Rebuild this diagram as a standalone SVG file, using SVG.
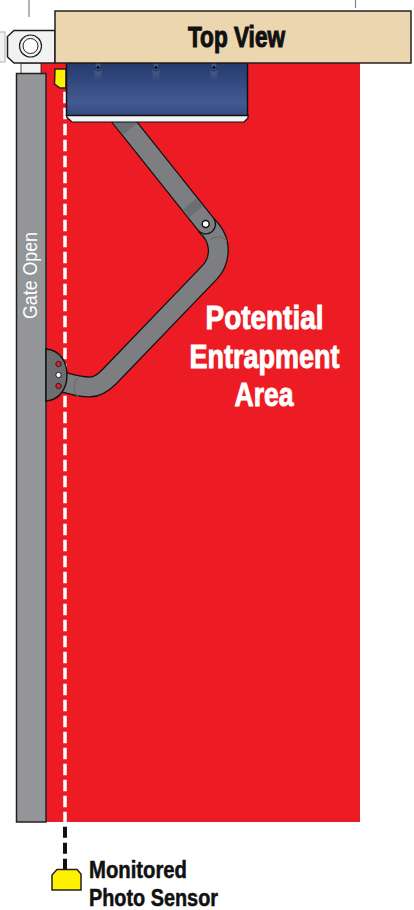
<svg xmlns="http://www.w3.org/2000/svg" width="414" height="910" viewBox="0 0 414 910">
<style>
.o{stroke:#231f20;stroke-width:1.5}
.h{font-family:"Liberation Sans",Arial,sans-serif;font-weight:700}
.w{fill:#fff;stroke:#fff;stroke-width:.9}
.k{fill:#111;stroke:#111;stroke-width:.5}
.s{fill:#ed1c24;stroke:#231f20;stroke-width:1}
</style>
<defs>
<linearGradient id="b" x1="0" y1="0" x2="0" y2="1"><stop offset="0" stop-color="#253a6c"/><stop offset=".75" stop-color="#435a92"/><stop offset="1" stop-color="#35497e"/></linearGradient>
<linearGradient id="f" x1="0" y1="0" x2="0" y2="1"><stop offset="0" stop-color="#6a7ea8" stop-opacity=".7"/><stop offset="1" stop-color="#6a7ea8" stop-opacity="0"/></linearGradient>
<g id="bolt"><rect x="-3.500" y="0" width="7" height="18" rx="3" fill="url(#f)"/><path d="M-3 0v5a3 3 0 0 0 6 0V0z" fill="#3d5a92" stroke="#1a2544" stroke-width=".8"/><circle cy="4.500" r="1.600" fill="#111"/></g>
</defs>
<rect width="414" height="910" fill="#fff"/>
<path id="ticks" d="M29 0V17M355.500 0V8" stroke="#808285" stroke-width="1.200" fill="none"/>
<rect id="area" x="41" y="63" width="319" height="759" fill="#ed1c24"/>
<g id="side-stub"><path d="M0 32H5V62H0" fill="#f1f2f2" stroke="#c7c8ca" stroke-width="1.500"/></g>
<g id="bracket">
<rect x="21" y="63" width="20" height="11" fill="#f1f2f2" stroke="#231f20" stroke-width=".8"/>
<path class="o" d="M14 30.500H55V63H14L7.500 57V36.500z" fill="#f1f2f2"/>
<circle cx="30.500" cy="46" r="11" fill="#f1f2f2" stroke="#231f20" stroke-width="1.200"/>
<circle cx="30.500" cy="46" r="7.500" fill="#fff" stroke="#231f20" stroke-width="1"/>
</g>
<g id="gate">
<rect class="o" x="16.500" y="73.500" width="29.500" height="748.500" fill="#939598"/>
<text transform="translate(37 319) rotate(-90)" font-family="'Liberation Sans',Arial,sans-serif" font-size="20" fill="#fff" textLength="87" lengthAdjust="spacingAndGlyphs">Gate Open</text>
</g>
<g id="top-sensor"><path class="o" d="M55 69H66V88H60L54.500 84z" fill="#fff200"/></g>
<g id="beam"><path d="M65 91.700V822" stroke="#fff" stroke-width="3.500" stroke-dasharray="11.500 4.500" fill="none"/><path d="M65 826.700V869" stroke="#111" stroke-width="4" stroke-dasharray="11 5" fill="none"/></g>
<g id="arm">
<path d="M60 381C70 384 78 387 90 387C97 387 103 383 109 377L210 272C216 265.500 218.300 258 218.300 250C218.300 240 213 231 205 224" stroke="#111" stroke-width="21" fill="none"/>
<path d="M60 381C70 384 78 387 90 387C97 387 103 383 109 377L210 272C216 265.500 218.300 258 218.300 250C218.300 240 213 231 205 224" stroke="#7d7e81" stroke-width="18.500" fill="none"/>
<path d="M78 378C73 382 73 392 78 396M210 240C214 236 223 236 227 241" stroke="#6d6e71" stroke-width="1.200" fill="none"/>
<path d="M118 114L205.700 224" stroke="#111" stroke-width="21" stroke-linecap="round" fill="none"/>
<path d="M118 114L205.700 224" stroke="#7d7e81" stroke-width="18.500" stroke-linecap="round" fill="none"/>
<path d="M118 114L130 129M189.500 204L196 212" stroke="#6d6e71" stroke-width="18.500" fill="none"/>
<circle cx="205.700" cy="224" r="3.500" fill="#fff" stroke="#111" stroke-width="1.500"/>
</g>
<g id="plate">
<path d="M46 349C60 350 67 362 67 375C67 388 60 400 46 401z" fill="#6d6e71" stroke="#111" stroke-width="1.400"/>
<circle class="s" cx="58.500" cy="364" r="2.700"/><circle cx="58.500" cy="375" r="2.700" fill="#fff" stroke="#231f20"/><circle class="s" cx="58.500" cy="386" r="2.700"/>
</g>
<g id="motor">
<path d="M66.500 115H248V118L244 122H72L66.500 117z" fill="#f1f2f2" stroke="#111" stroke-width="1.200"/>
<rect x="66.500" y="63" width="181" height="52.500" fill="url(#b)" stroke="#111" stroke-width="1.500"/>
<use href="#bolt" x="98" y="63"/><use href="#bolt" x="156" y="63"/><use href="#bolt" x="214" y="63"/>
</g>
<g id="title">
<rect class="o" x="55" y="11" width="356" height="52" fill="#ecd6b0"/>
<text class="h k" x="188" y="46.500" font-size="29" style="stroke-width:1.100" textLength="97" lengthAdjust="spacingAndGlyphs">Top View</text>
</g>
<g id="entrapment">
<text class="h w" x="205.500" y="329" font-size="33" textLength="118" lengthAdjust="spacingAndGlyphs">Potential</text>
<text class="h w" x="189.500" y="368" font-size="33" textLength="150" lengthAdjust="spacingAndGlyphs">Entrapment</text>
<text class="h w" x="234.500" y="406" font-size="33" textLength="59" lengthAdjust="spacingAndGlyphs">Area</text>
</g>
<g id="bottom-sensor">
<path class="o" d="M57 869.500H77L81 874V890H52V875z" fill="#fff200"/>
<text class="h k" x="89" y="878" font-size="23" textLength="98" lengthAdjust="spacingAndGlyphs">Monitored</text>
<text class="h k" x="89" y="905.500" font-size="23" textLength="129" lengthAdjust="spacingAndGlyphs">Photo Sensor</text>
</g>
</svg>
